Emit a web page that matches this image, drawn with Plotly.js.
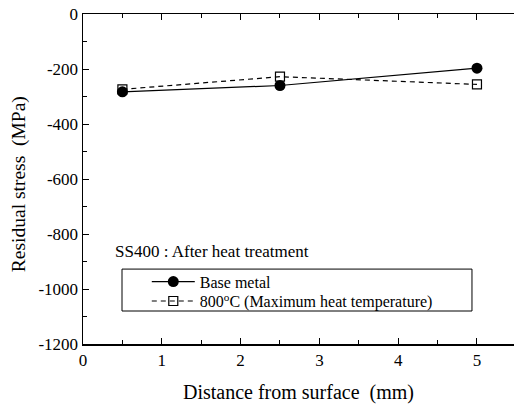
<!DOCTYPE html>
<html>
<head>
<meta charset="utf-8">
<script src="https://cdn.plot.ly/plotly-3.0.1.min.js"></script>
<style>
  html, body { margin: 0; padding: 0; background: #fff; }
  #chart { width: 514px; height: 405px; }
</style>
</head>
<body>
<div id="chart"></div>
<script>
// Residual stress measured at depth below the surface (SS400 after heat treatment)
const depth = [0.5, 2.5, 5];
const baseMetal = [-283, -260, -197];
const heat800 = [-274, -228, -256];

const seriesNames = ['Base metal', '800<sup>o</sup>C (Maximum heat temperature)'];

const yTickVals = [0, -200, -400, -600, -800, -1000, -1200];
const yTickText = ['0', '-200', '-400', '-600', '-800', '-1000', '-1200'];
const xTickVals = [0, 1, 2, 3, 4, 5];
const xTickText = ['0', '1', '2', '3', '4', '5'];

const serif = 'Liberation Serif, Times New Roman, serif';

const traces = [
  {
    x: depth, y: baseMetal, name: seriesNames[0], legend: 'legend',
    mode: 'lines+markers',
    line: { color: '#000', width: 1.2 },
    marker: { symbol: 'circle', size: 11, color: '#000' }
  },
  {
    x: depth, y: heat800, name: seriesNames[1], legend: 'legend2',
    mode: 'lines+markers',
    line: { color: '#000', width: 1.2, dash: '5px,4px' },
    marker: { symbol: 'square-open', size: 9, color: '#000', line: { width: 1.2 } }
  }
];

// one legend per series so the two rows sit close together inside the frame
const legendStyle = (yPos) => ({
  x: 0.148, y: yPos, xanchor: 'left', yanchor: 'middle',
  bgcolor: 'rgba(0,0,0,0)', borderwidth: 0,
  font: { family: serif, size: 16, color: '#000' },
  itemwidth: 43
});

const layout = {
  width: 514, height: 405,
  margin: { l: 83, r: 0, t: 14, b: 61 },
  paper_bgcolor: '#fff', plot_bgcolor: '#fff',
  font: { family: serif, color: '#000', size: 17 },
  showlegend: true,
  legend: legendStyle(0.189),
  legend2: legendStyle(0.130),
  xaxis: {
    range: [0, 5.47], showgrid: false, zeroline: false,
    showline: true, linecolor: '#000', linewidth: 1.5, mirror: 'ticks',
    ticks: 'inside', ticklen: 6, tickwidth: 1, tickcolor: '#000',
    tickvals: xTickVals, ticktext: xTickText,
    tickfont: { family: serif, size: 17 },
    minor: { dtick: 0.5, ticks: 'inside', ticklen: 4, tickcolor: '#000', showgrid: false },
    title: { text: 'Distance from surface  (mm)', font: { family: serif, size: 20 }, standoff: 16 },
    automargin: false
  },
  yaxis: {
    range: [-1200, 0], showgrid: false, zeroline: false,
    showline: true, linecolor: '#000', linewidth: 1.5,
    ticks: 'inside', ticklen: 6, tickwidth: 1, tickcolor: '#000',
    tickvals: yTickVals, ticktext: yTickText,
    tickfont: { family: serif, size: 17 },
    minor: { dtick: 100, ticks: 'inside', ticklen: 4, tickcolor: '#000', showgrid: false },
    automargin: false
  },
  shapes: [
    { type: 'rect', xref: 'paper', yref: 'paper',
      x0: 0.0905, x1: 0.9025, y0: 0.10, y1: 0.227,
      line: { color: '#000', width: 1 }, fillcolor: 'rgba(0,0,0,0)' }
  ],
  annotations: [
    { xref: 'paper', yref: 'paper', x: 0.07, y: 0.279,
      xanchor: 'left', yanchor: 'middle', showarrow: false,
      text: 'SS400 : After heat treatment',
      font: { family: serif, size: 17, color: '#000' } },
    { xref: 'paper', yref: 'paper', x: -0.148, y: 0.485,
      xanchor: 'center', yanchor: 'middle', showarrow: false, textangle: -90,
      text: 'Residual stress  (MPa)',
      font: { family: serif, size: 19.5, color: '#000' } }
  ]
};

Plotly.newPlot('chart', traces, layout, { displayModeBar: false, staticPlot: true });
</script>
</body>
</html>
